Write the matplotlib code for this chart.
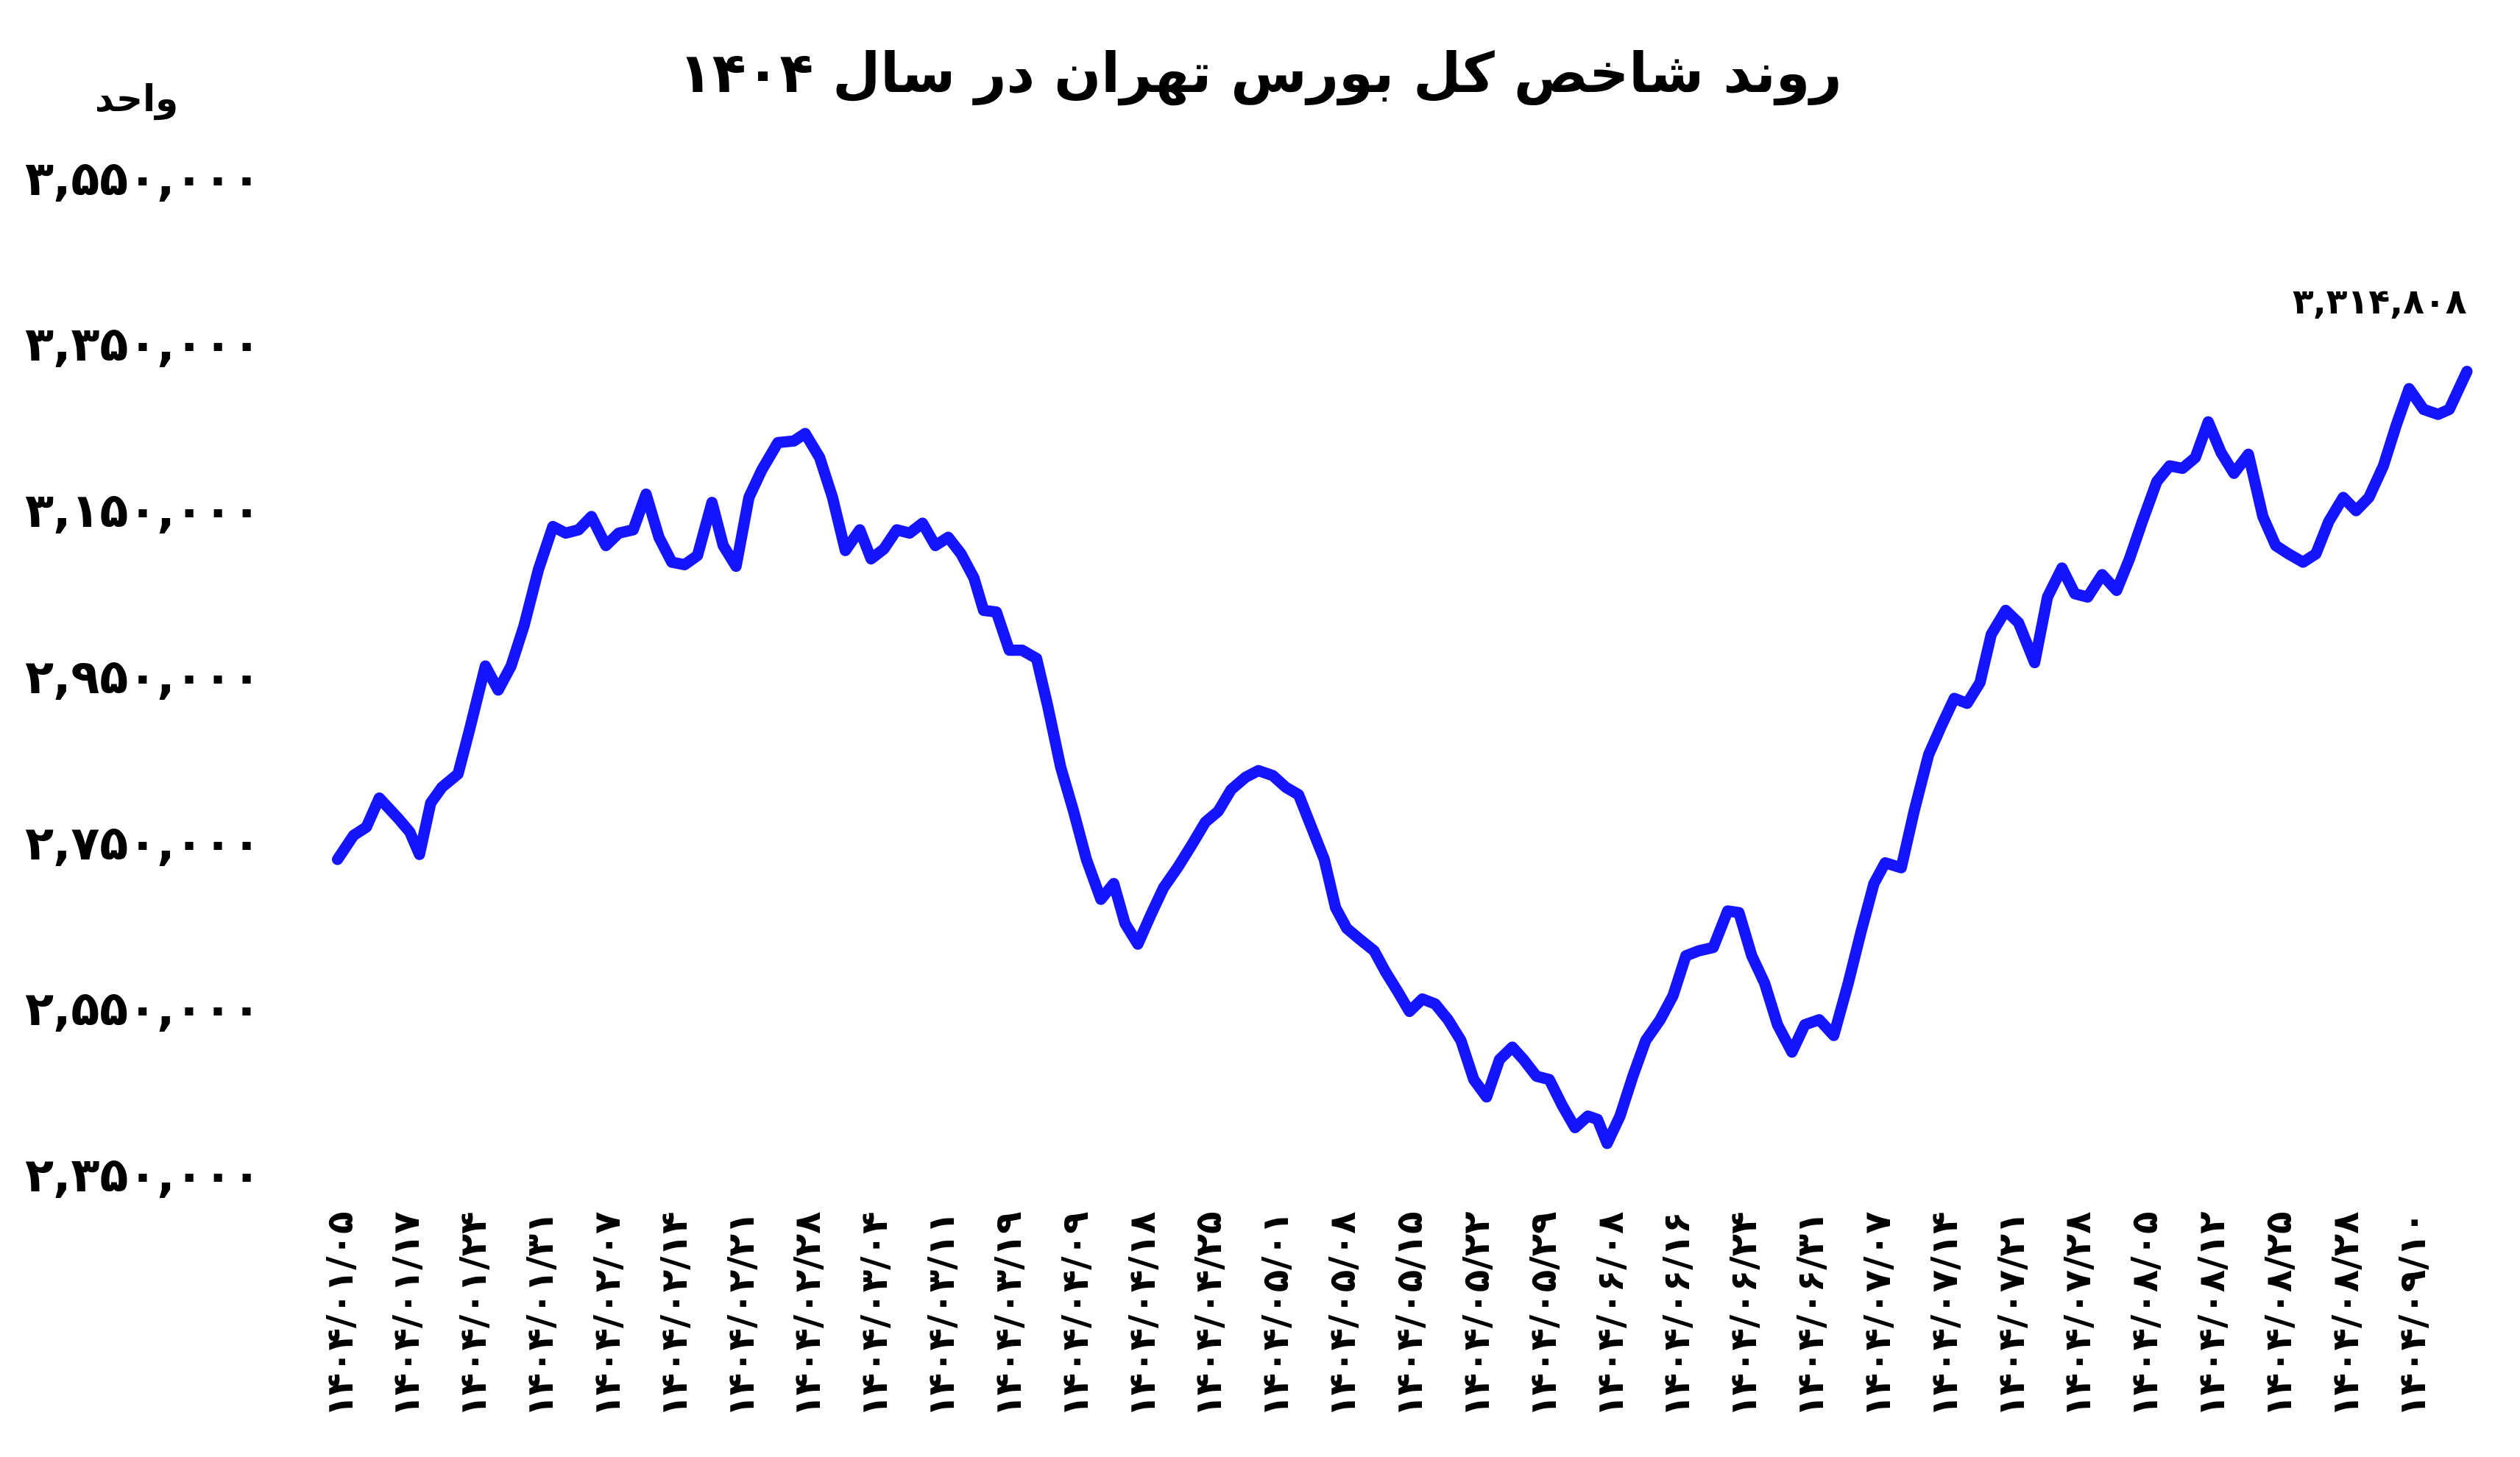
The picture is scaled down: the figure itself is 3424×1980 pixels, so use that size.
import matplotlib
matplotlib.use("Agg")
import matplotlib.pyplot as plt
import numpy as np

# ---------------- data ----------------
tick_labels = ["01/05","01/17","01/24","01/31","02/07","02/14","02/21","02/28","03/04","03/11",
               "03/19","04/09","04/18","04/25","05/01","05/08","05/15","05/22","05/29","06/08",
               "06/16","06/24","06/31","07/07","07/14","07/21","07/28","08/05","08/12","08/25",
               "08/28","09/10"]
# horizontal positions of readings (tick 0 at 210, 41.6 per tick)
read_pos = [210,220,228,236,248,255,261,268,275,285,292,302,310,318,326,335,344,352,360,368,377,385,394,402,
            410,418,426,434,443,450,458,466,474,484,494,501,510,518,526,535,542,550,558,566,574,582,590,598,
            606,612,620,628,636,645,652,660,668,676,685,693,700,708,716,724,733,742,750,758,766,775,783,792,
            800,808,816,824,831,838,846,855,862,870,877,885,893,901,909,917,925,933,941,948,956,964,972,980,
            988,994,1000,1008,1016,1024,1033,1041,1049,1057,1066,1075,1082,1090,1098,1106,1115,1123,1132,1141,
            1150,1158,1166,1173,1183,1191,1200,1208,1216,1224,1232,1239,1248,1256,1266,1274,1283,1291,1299,1308,
            1317,1325,1333,1342,1350,1358,1366,1374,1382,1390,1399,1408,1416,1424,1433,1441,1449,1458,1466,1474,
            1483,1491,1499,1508,1517,1524,1535]
values_k = [2727,2756,2766,2801,2776,2760,2733,2795,2814,2830,2882,2960,2931,2960,3008,3076,3128,3120,3124,3140,3105,3120,3124,3167,
            3115,3085,3082,3093,3157,3105,3080,3163,3196,3229,3231,3240,3211,3163,3099,3124,3089,3101,3124,3120,3132,3105,3115,3095,
            3066,3027,3025,2979,2979,2969,2911,2838,2785,2727,2679,2698,2650,2625,2660,2693,2718,2746,2772,2785,2811,2826,2834,2828,
            2814,2805,2766,2727,2669,2644,2631,2617,2592,2567,2544,2559,2553,2534,2509,2462,2441,2486,2501,2486,2466,2462,2431,2404,
            2418,2414,2385,2418,2466,2509,2534,2563,2611,2617,2621,2665,2663,2611,2578,2528,2495,2528,2534,2515,
            2578,2640,2698,2723,2717,2785,2853,2888,2921,2915,2940,2998,3027,3012,2964,3043,3078,3047,3043,3070,
            3051,3089,3134,3182,3201,3198,3211,3254,3217,3192,3215,3140,3105,3095,3085,3095,3134,3163,3147,3163,
            3201,3250,3294,3269,3263,3269,3314.808]
yticks = [2350000, 2550000, 2750000, 2950000, 3150000, 3350000, 3550000]
last_label = 3314808

# ---------------- persian helpers ----------------
PD = str.maketrans("0123456789", "۰۱۲۳۴۵۶۷۸۹")
FORMS = {  # iso, fin, init, med
    'ا': ('\uFE8D', '\uFE8E', None, None), 'د': ('\uFEA9', '\uFEAA', None, None),
    'ر': ('\uFEAD', '\uFEAE', None, None), 'و': ('\uFEED', '\uFEEE', None, None),
    'ب': ('\uFE8F', '\uFE90', '\uFE91', '\uFE92'), 'ت': ('\uFE95', '\uFE96', '\uFE97', '\uFE98'),
    'ح': ('\uFEA1', '\uFEA2', '\uFEA3', '\uFEA4'), 'خ': ('\uFEA5', '\uFEA6', '\uFEA7', '\uFEA8'),
    'س': ('\uFEB1', '\uFEB2', '\uFEB3', '\uFEB4'), 'ش': ('\uFEB5', '\uFEB6', '\uFEB7', '\uFEB8'),
    'ص': ('\uFEB9', '\uFEBA', '\uFEBB', '\uFEBC'), 'ل': ('\uFEDD', '\uFEDE', '\uFEDF', '\uFEE0'),
    'ن': ('\uFEE5', '\uFEE6', '\uFEE7', '\uFEE8'), 'ه': ('\uFEE9', '\uFEEA', '\uFEEB', '\uFEEC'),
    'ک': ('\uFED9', '\uFEDA', '\uFEDB', '\uFEDC'),
}
def dual(c):
    return c in FORMS and FORMS[c][2] is not None
def shape_word(w):
    out = []
    for i, c in enumerate(w):
        if c not in FORMS:
            out.append(c); continue
        jp = i > 0 and dual(w[i-1])
        jn = dual(c) and i < len(w) - 1 and w[i+1] in FORMS
        f = FORMS[c]
        out.append(f[3] if jp and jn else f[1] if jp else f[2] if jn else f[0])
    return ''.join(reversed(out))
def fa(text):
    words = text.split(' ')
    shaped = [w if w[0].isdigit() or w[0] in '۰۱۲۳۴۵۶۷۸۹' else shape_word(w) for w in words]
    return ' '.join(reversed(shaped))

# ---------------- plot ----------------
plt.rcParams['font.family'] = ['DejaVu Sans']
plt.rcParams['font.weight'] = 'bold'
W, H = 1568, 907
fig = plt.figure(figsize=(34.24, 19.81), dpi=100)
x = (np.array(read_pos) - 210) / 41.6
y = np.array(values_k) * 1000
ax = fig.add_axes([210 / W, 1 - 730 / H, (1535 - 210) / W, 620 / H])
ax.plot(x, y, color='#1414ff', lw=11, solid_capstyle='round', solid_joinstyle='round', clip_on=False)
ax.set_xlim(0, x[-1])
ax.set_ylim(2350000, 3550000)
for s in ax.spines.values():
    s.set_visible(False)
ax.set_yticks(yticks)
ax.set_yticklabels([f"{v:,}".translate(PD) for v in yticks], fontsize=46, fontweight='bold')
ax.set_xticks(np.arange(len(tick_labels)))
ax.set_xticklabels([("1404/" + t).translate(PD) for t in tick_labels], rotation=90,
                   fontsize=36, fontweight='bold', va='top')
ax.tick_params(length=0, pad=32)
ax.tick_params(axis='y', pad=75)

ax.annotate(f"{last_label:,}".translate(PD), (x[-1], y[-1]), xytext=(0, 50),
            textcoords='offset points', ha='right', va='bottom', fontsize=34, fontweight='bold')
fig.text(0.5, 1 - 48 / H, fa("روند شاخص کل بورس تهران در سال ۱۴۰۴"), ha='center', va='center',
         fontsize=54, fontweight='bold')
fig.text(85 / W, 1 - 63 / H, fa("واحد"), ha='center', va='center', fontsize=36, fontweight='bold')
fig.savefig("out.png", dpi=100, facecolor='white')
